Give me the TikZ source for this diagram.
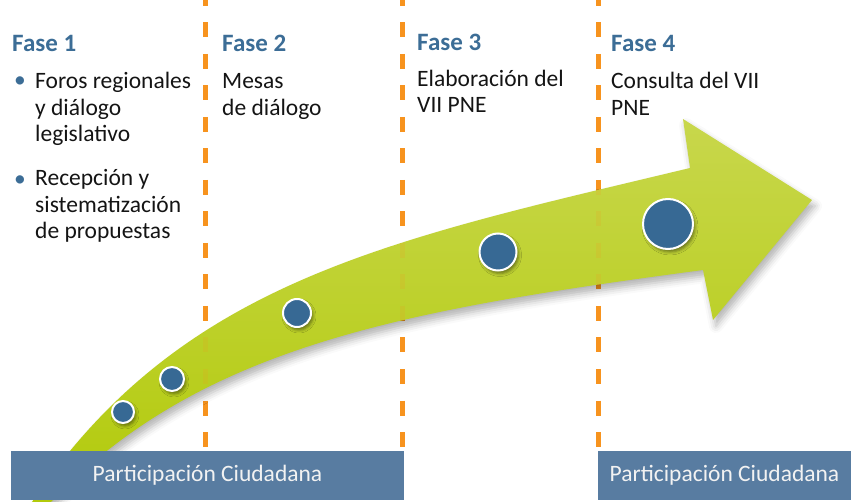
\documentclass[tikz,border=0pt]{standalone}
\usepackage{fontspec}
\setmainfont{Carlito}
\usetikzlibrary{shadows.blur}
\definecolor{fasec}{HTML}{3C6D96}
\definecolor{dashc}{HTML}{F7931E}
\definecolor{boxc}{HTML}{587CA1}
\definecolor{boxtext}{HTML}{F2F2F2}
\definecolor{dotc}{HTML}{376994}
\definecolor{arrtop}{HTML}{C8D74C}
\definecolor{arrbot}{HTML}{B2CA0A}
\definecolor{bodyc}{HTML}{141414}
\def\arrowpath{(30,505) .. controls (180,280) and (390,240) .. (690,168) -- (683,119) -- (812,200) -- (713,320) -- (703,270) .. controls (403,310) and (198,346) .. (48,505) -- cycle}
\tikzset{
  phaseline/.style={draw=dashc, line width=5pt, dash pattern=on 15pt off 16.5pt},
  fasetitle/.style={anchor=base west, inner sep=0pt, font=\fontsize{25}{30}\selectfont\bfseries, text=fasec},
  bodytext/.style={anchor=base west, inner sep=0pt, align=left, font=\fontsize{23.5}{26.5}\selectfont, text=bodyc},
  bulletmark/.style={anchor=base west, inner sep=0pt, font=\fontsize{23.5}{26.5}\selectfont, text=fasec},
  pbox/.style={fill=boxc, inner sep=0pt, minimum height=49pt, text=boxtext, font=\fontsize{23.5}{28}\selectfont},
  dot/.style={circle, fill=dotc, draw=white, line width=2pt, inner sep=0pt,
    blur shadow={shadow xshift=2pt, shadow yshift=-3pt, shadow blur radius=3pt, shadow opacity=45}},
}
\begin{document}
\begin{tikzpicture}[x=1pt,y=-1pt]
\useasboundingbox (0,0) rectangle (851,502);
\begin{scope}
\clip (0,0) rectangle (851,502);
% phase separators
\coordinate (l1t) at (205,-9); \coordinate (l1b) at (205,447);
\coordinate (l2t) at (402,-9); \coordinate (l2b) at (402,447);
\coordinate (l3t) at (598,-9); \coordinate (l3b) at (598,447);
\draw[phaseline] (l1t) -- (l1b);
\draw[phaseline] (l2t) -- (l2b);
\draw[phaseline] (l3t) -- (l3b);
% arrow
\path[blur shadow={shadow xshift=3pt, shadow yshift=-6pt, shadow blur radius=7pt, shadow opacity=30},
      top color=arrtop, bottom color=arrbot] \arrowpath;
\begin{scope}
\clip \arrowpath;
\draw[phaseline, draw opacity=0.15] (l1t) -- (l1b);
\draw[phaseline, draw opacity=0.15] (l2t) -- (l2b);
\draw[phaseline, draw opacity=0.15] (l3t) -- (l3b);
\end{scope}
% dots
\node[dot, minimum size=22pt] (d1) at (123,412) {};
\node[dot, minimum size=24pt] (d2) at (172,379) {};
\node[dot, minimum size=28pt] (d3) at (297,313) {};
\node[dot, minimum size=37pt] (d4) at (498,252) {};
\node[dot, minimum size=50pt] (d5) at (668,224) {};
% bottom boxes
\node[pbox, minimum width=393pt] (b1) at (207.5,475.5) {Participación Ciudadana};
\node[pbox, minimum width=253pt] (b2) at (724.5,475.5) {Participación Ciudadana};
\end{scope}
% phase texts
\node[fasetitle] (f1) at (12,52) {Fase 1};
\node[fasetitle] (f2) at (222,52) {Fase 2};
\node[fasetitle] (f3) at (417,51) {Fase 3};
\node[fasetitle] (f4) at (611,52) {Fase 4};
\node[bulletmark] (bu1) at (14,88) {\textbullet};
\node[bulletmark] (bu2) at (14,187) {\textbullet};
% multi-line nodes: base anchor is the baseline of the last line
\node[bodytext] (t1) at (35,142) {Foros regionales\\y diálogo\\legislativo};
\node[bodytext] (t2) at (35,239) {Recepción y\\sistematización\\de propuestas};
\node[bodytext] (t3) at (222,115.5) {Mesas\\de diálogo};
\node[bodytext] (t4) at (417,113) {Elaboración del\\VII PNE};
\node[bodytext] (t5) at (611,115.5) {Consulta del VII\\PNE};
\end{tikzpicture}
\end{document}
